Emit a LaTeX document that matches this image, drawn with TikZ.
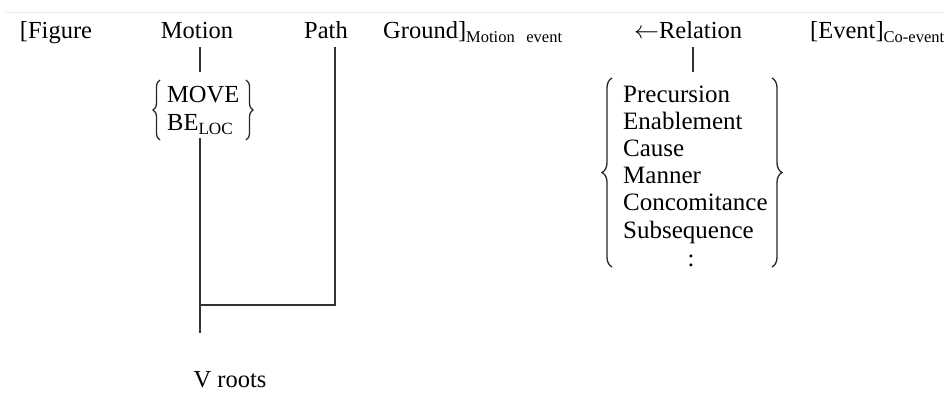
\documentclass[tikz,border=0pt]{standalone}
\usepackage{fontspec}
\setmainfont{Liberation Serif}
\usetikzlibrary{decorations.pathreplacing}
\begin{document}
\begin{tikzpicture}[x=1pt,y=-1pt,
  lab/.style={inner sep=0pt, font=\fontsize{24.5}{28}\selectfont, anchor=base},
  item/.style={inner sep=0pt, font=\fontsize{25}{27}\selectfont, anchor=base west},
  ln/.style={line width=1.3pt, draw=black!80},
  brc/.style={decorate, decoration={brace, amplitude=#1}, line width=1.3pt, draw=black!85}]
\useasboundingbox (0,0) rectangle (944,392);
\coordinate (edgeL) at (5,12);
\coordinate (edgeR) at (944,12);
\draw[gray!15, line width=1pt] (edgeL) -- (edgeR);
% top row
\node[lab] (fig) at (56,38.5) {[Figure};
\node[lab] (motion) at (197,38.5) {Motion};
\node[lab] (path) at (326,38.5) {Path};
\node[lab, anchor=base west] (ground) at (383,38.5) {Ground]\raisebox{-3.5pt}{\fontsize{16.5}{16}\selectfont Motion\hspace{0.7em}event}};
\node[lab, anchor=base west] (rel) at (634,38.5) {$\leftarrow$Relation};
\node[lab, anchor=base west] (ev) at (810,38.5) {[Event]\raisebox{-3.5pt}{\fontsize{16.5}{16}\selectfont Co-event}};
% MOVE / BE_LOC
\node[item, font=\fontsize{24.5}{28}\selectfont] (move) at (167,102.5) {MOVE};
\node[item, font=\fontsize{24.5}{28}\selectfont] (beloc) at (167,130.5) {BE\textsubscript{LOC}};
\coordinate (mbl) at (160,140);
\coordinate (mtl) at (160,80);
\coordinate (mtr) at (246,80);
\coordinate (mbr) at (246,140);
\draw[brc=7pt] (mbl) -- (mtl);
\draw[brc=7pt] (mtr) -- (mbr);
% relation list
\foreach \t [count=\i from 0] in {Precursion,Enablement,Cause,Manner,Concomitance,Subsequence}
  \node[item] (r\i) at (623,{102+27.2*\i}) {\t};
\node[lab] (rdots) at (691,266) {:};
\coordinate (rbl) at (612,267);
\coordinate (rtl) at (612,78);
\coordinate (rtr) at (772,78);
\coordinate (rbr) at (772,267);
\draw[brc=10pt] (rbl) -- (rtl);
\draw[brc=10pt] (rtr) -- (rbr);
% V roots
\node[lab] (vr) at (230,387) {V roots};
% connectors
\coordinate (mtop) at (200,47);
\coordinate (mmid1) at (200,72);
\coordinate (mmid2) at (200,138);
\coordinate (mbot) at (200,333);
\coordinate (join) at (200,305);
\coordinate (ptop) at (335,47);
\coordinate (rtop) at (693,47);
\coordinate (rmid) at (693,72);
\draw[ln] (mtop) -- (mmid1);
\draw[ln] (mmid2) -- (mbot);
\draw[ln] (ptop) -- (ptop |- join) -- (join);
\draw[ln] (rtop) -- (rmid);
\end{tikzpicture}
\end{document}
